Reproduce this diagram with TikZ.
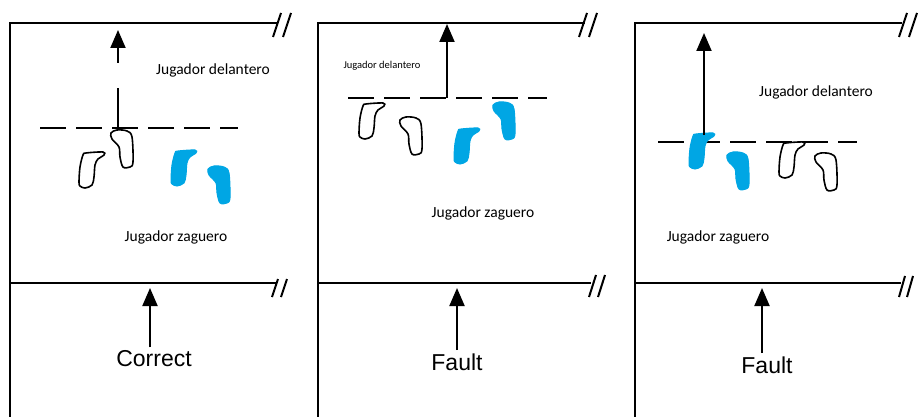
\documentclass[tikz,border=0pt]{standalone}
\usepackage{fontspec}
\usetikzlibrary{arrows.meta}
\newfontfamily\jugfont{Carlito}
\newfontfamily\callfont{Liberation Sans}
\definecolor{footblue}{RGB}{0,166,228}

% footprints, hook to the upper right and hook to the upper left
\newcommand{\footR}[2]{\draw[#1, shift={(#2)}] plot[smooth cycle, tension=0.55] coordinates {(3,3) (6,1) (23,0) (24,3) (18,7) (15,13) (14,25) (12,33) (5,36) (0,34) (-1,30) (0,15)};}
\newcommand{\footL}[2]{\draw[#1, shift={(#2)}] plot[smooth cycle, tension=0.55] coordinates {(0,3) (6,0) (16,1) (21,7) (22,32) (19,37) (12,37) (9,27) (8,17) (1,9)};}

\begin{document}
\begin{tikzpicture}[x=1pt, y=-1pt,
  border/.style={line width=2.4pt},
  midline/.style={line width=1.4pt},
  guide/.style={line width=1.2pt, dash pattern=on 26pt off 10pt},
  slash/.style={line width=2pt},
  arrowup/.style={line width=2pt, -{Triangle[width=15pt, length=18pt]}},
  outline/.style={line width=1.6pt, fill=white},
  filled/.style={fill=footblue, draw=footblue, line width=1pt},
  jug/.style={font=\jugfont\fontsize{15.5}{18}\selectfont},
  call/.style={font=\callfont\fontsize{23}{26}\selectfont}]

    \useasboundingbox (0,0) rectangle (918,417);

    % ----- Correct -----
    \draw[border] (10,417) -- (10,23) -- (277,23);
    \draw[slash] (273,37) -- (281,13);
    \draw[slash] (283,37) -- (291,13);
    \draw[midline] (10,283) -- (276,283);
    \draw[slash] (272,297) -- (278,279);
    \draw[slash] (281,297) -- (287,279);

    \draw[guide] (40,128) -- (238,128);

    \coordinate (upA) at (118,30);
    \coordinate (stemA) at (118,63);
    \coordinate (footA) at (118,128);
    \coordinate (gapA) at (118,88);
    \draw[arrowup] (stemA) -- (upA);
    \draw[line width=2pt] (footA) -- (gapA);

    \footR{outline}{80,152}
    \footL{outline}{111,130}
    \footR{filled}{172,150}
    \footL{filled}{208,166}

    \node[jug] (frontA) at (213,70) {Jugador delantero};
    \node[jug] (backA) at (176,237) {Jugador zaguero};

    \node[call] (correct) at (154,359) {Correct};
    \coordinate (tipA) at (150,288);
    \draw[arrowup] (correct.north -| tipA) -- (tipA);

    % ----- Fault (line crossed) -----
    \draw[border] (318,417) -- (318,23) -- (585,23);
    \draw[slash] (579,37) -- (587,13);
    \draw[slash] (589,37) -- (597,13);
    \draw[midline] (318,283) -- (591,283);
    \draw[slash] (589,297) -- (596,275);
    \draw[slash] (598,297) -- (605,275);

    \draw[guide] (348,98) -- (547,98);

    \coordinate (upB) at (447,24);
    \coordinate (footB) at (447,98);
    \draw[arrowup] (footB) -- (upB);

    \footR{outline}{360,103}
    \footL{outline}{400,117}
    \footR{filled}{455,128}
    \footL{filled}{493,102}

    \node[jug, font=\jugfont\fontsize{10.5}{12}\selectfont] (frontB) at (382,66) {Jugador delantero};
    \node[jug] (backB) at (483,213) {Jugador zaguero};

    \node[call] (faultB) at (457,362) {Fault};
    \coordinate (tipB) at (457,288);
    \draw[arrowup] (faultB.north) -- (tipB);

    % ----- Fault (foot on the line) -----
    \draw[border] (635,417) -- (635,23) -- (902,23);
    \draw[slash] (899,37) -- (907,13);
    \draw[slash] (909,37) -- (917,13);
    \draw[midline] (635,283) -- (901,283);
    \draw[slash] (899,297) -- (905,276);
    \draw[slash] (907,297) -- (913,276);

    \draw[guide] (658,142) -- (857,142);

    \footR{filled}{690,133}
    \footL{filled}{727,152}
    \footR{outline}{780,142}
    \footL{outline}{815,153}

    \coordinate (upC) at (704,33);
    \coordinate (footC) at (704,135);
    \draw[arrowup] (footC) -- (upC);

    \node[jug] (frontC) at (816,92) {Jugador delantero};
    \node[jug] (backC) at (718,237) {Jugador zaguero};

    \node[call] (faultC) at (767,365) {Fault};
    \coordinate (tipC) at (762,288);
    \draw[arrowup] (faultC.north -| tipC) -- (tipC);

\end{tikzpicture}
\end{document}
